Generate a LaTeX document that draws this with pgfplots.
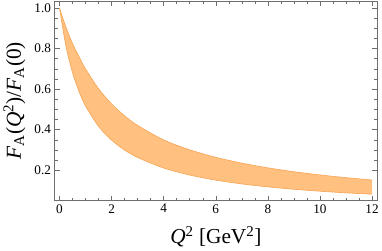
\documentclass[border=0pt]{standalone}
\usepackage{fontspec}
\setmainfont{Liberation Serif}
\usepackage{pgfplots}
\usepackage{pgfplotstable}
\pgfplotsset{compat=1.18}
\usepgfplotslibrary{fillbetween}
\definecolor{bandfill}{RGB}{255,192,128}
\definecolor{bandedge}{RGB}{248,165,85}
\definecolor{axgray}{RGB}{110,110,110}
\pgfplotstableread{
x up lo
0 1 1
0.25 0.905 0.8106
0.5 0.825 0.6815
0.75 0.76 0.5879
1 0.70 0.5169
1.5 0.602 0.4163
2 0.527 0.3485
2.5 0.468 0.2997
3 0.421 0.2629
4 0.3496 0.2110
5 0.3007 0.1763
6 0.2638 0.1513
7 0.2350 0.1326
8 0.2118 0.1180
9 0.1928 0.1063
10 0.1770 0.0967
11 0.1635 0.0886
12 0.1519 0.0819
}\band
\begin{document}
\begin{tikzpicture}
\begin{axis}[
  scale only axis, width=318pt, height=197pt,
  xmin=-0.19, xmax=12.2, ymin=0.05, ymax=1.035,
  xtick={0,2,4,6,8,10,12}, ytick={0.2,0.4,0.6,0.8,1.0},
  minor x tick num=3, minor y tick num=3,
  tick align=inside, major tick length=5pt, minor tick length=3pt,
  axis line style={axgray}, every tick/.style={axgray},
  /pgf/number format/assume math mode=true,
  tick label style={font=\fontsize{13}{13}\selectfont},
  yticklabel style={/pgf/number format/.cd, fixed, fixed zerofill, precision=1},
  xlabel={\textit{Q}\textsuperscript{2} [GeV\textsuperscript{2}]},
  ylabel={\textit{F}\textsubscript{A}(\textit{Q}\textsuperscript{2})/\textit{F}\textsubscript{A}(0)},
  label style={font=\fontsize{21}{21}\selectfont},
  xlabel style={yshift=-6pt},
  ylabel style={yshift=2pt},
]
\addplot[name path=up, draw=none, smooth, forget plot] table[x=x,y=up] {\band};
\addplot[name path=lo, draw=none, smooth, forget plot] table[x=x,y=lo] {\band};
\addplot[bandfill, draw=none] fill between[of=up and lo];
\addplot[draw=bandedge, line width=0.6pt, smooth] table[x=x,y=up] {\band};
\addplot[draw=bandedge, line width=0.6pt, smooth] table[x=x,y=lo] {\band};
\end{axis}
\end{tikzpicture}
\end{document}
